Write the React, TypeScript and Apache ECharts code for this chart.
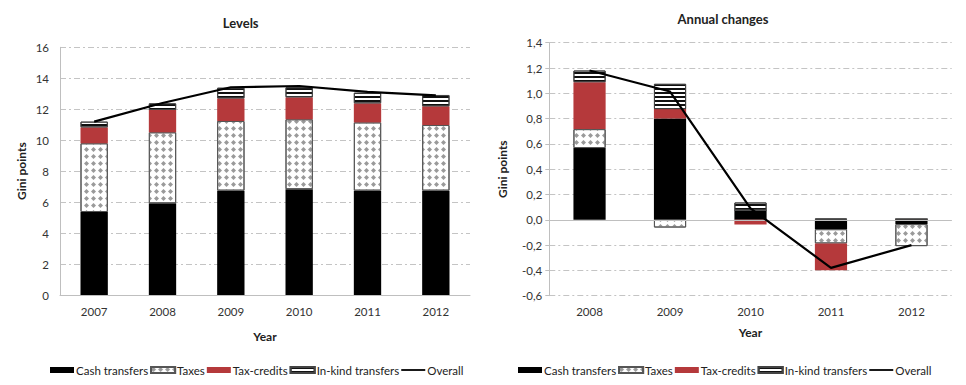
import React, { useEffect, useRef } from "react";
import * as echarts from "echarts";

const levelYears = ["2007", "2008", "2009", "2010", "2011", "2012"];
const levelCash = [5.36, 5.92, 6.74, 6.83, 6.74, 6.74];
const levelTaxes = [4.44, 4.59, 4.5, 4.52, 4.41, 4.24];
const levelCredits = [1.03, 1.44, 1.46, 1.42, 1.23, 1.21];
const levelInKind = [0.37, 0.43, 0.69, 0.65, 0.69, 0.73];
const levelOverall = [11.2, 12.4, 13.42, 13.5, 13.12, 12.9];

const changeYears = ["2008", "2009", "2010", "2011", "2012"];
const changeCash = [0.567, 0.801, 0.075, -0.074, -0.034];
const changeTaxes = [0.15, -0.061, 0, -0.113, -0.174];
const changeCredits = [0.371, 0.074, -0.037, -0.211, 0.005];
const changeInKind = [0.092, 0.2, 0.062, 0.011, 0];
const changeOverall = [1.18, 1.014, 0.09, -0.38, -0.2];

const seriesNames = ["Cash transfers", "Taxes", "Tax-credits", "In-kind transfers", "Overall"];

const FONT = "Lato, 'Open Sans', sans-serif";
const GRID_COLOR = "#c4c4c4";
const AXIS_COLOR = "#bfbfbf";
const TEXT_COLOR = "#333";

const styles: any[] = [
  { color: "#000000" },
  {
    color: "#ffffff",
    borderColor: "#555",
    borderWidth: 1,
    decal: {
      symbol: "diamond",
      symbolSize: 1,
      dashArrayX: [4.8, 2],
      dashArrayY: [4.8, 2],
      color: "#9a9a9a",
    },
  },
  { color: "#b5393b" },
  {
    color: "#ffffff",
    borderColor: "#444",
    borderWidth: 1,
    decal: {
      symbol: "rect",
      symbolSize: 1,
      symbolKeepAspect: false,
      dashArrayX: [1, 0],
      dashArrayY: [1.5, 1.5],
      color: "#111",
    },
  },
];

function barSeries(values: number[][], gridIdx: number, stack: string) {
  return values.map((vals, i) => ({
    type: "bar",
    name: seriesNames[i],
    xAxisIndex: gridIdx,
    yAxisIndex: gridIdx,
    stack,
    barWidth: "40%",
    itemStyle: styles[i],
    emphasis: { disabled: true },
    data: vals,
  }));
}

function legendFor(left: number) {
  return {
    left,
    top: 359,
    itemWidth: 24,
    itemHeight: 6,
    itemGap: 2,
    selectedMode: false,
    textStyle: { fontFamily: FONT, fontSize: 11.5, color: "#222", padding: [0, 0, 0, -3] },
    data: [
      { name: seriesNames[0], icon: "rect" },
      { name: seriesNames[1], icon: "rect" },
      { name: seriesNames[2], icon: "rect" },
      { name: seriesNames[3], icon: "rect" },
      { name: seriesNames[4], icon: "path://M0 0H120V9H0Z", itemStyle: { color: "#000", borderWidth: 0 } },
    ],
  };
}

const splitLine = { show: true, lineStyle: { color: GRID_COLOR, type: [6, 3, 2, 3], width: 1 } };
const labelStyle = { fontFamily: FONT, fontSize: 11.5, color: TEXT_COLOR };
const nameStyle = { fontFamily: FONT, fontSize: 12, fontWeight: "bold", color: "#222" };

export default function App() {
  const ref = useRef<HTMLDivElement>(null);
  useEffect(() => {
    document.body.style.margin = "0";
    if (!ref.current) return;
    const chart = echarts.init(ref.current, undefined, { renderer: "svg" });
    const option: any = {
      animation: false,
      backgroundColor: "#ffffff",
      graphic: [
        {
          type: "text",
          x: 240.7,
          y: 23.3,
          style: {
            text: "Levels",
            align: "center",
            verticalAlign: "middle",
            textAlign: "center",
            textVerticalAlign: "middle",
            font: `bold 13px ${FONT}`,
            fill: "#222",
          },
        },
        {
          type: "text",
          x: 723,
          y: 19.3,
          style: {
            text: "Annual changes",
            align: "center",
            verticalAlign: "middle",
            textAlign: "center",
            textVerticalAlign: "middle",
            font: `bold 13px ${FONT}`,
            fill: "#222",
          },
        },
      ],
      legend: [legendFor(45), legendFor(513)],
      grid: [
        { left: 60, top: 47.3, width: 410, height: 247.7 },
        { left: 549.3, top: 42.7, width: 402.4, height: 253 },
      ],
      xAxis: [
        {
          type: "category",
          gridIndex: 0,
          data: levelYears,
          name: "Year",
          nameLocation: "middle",
          nameGap: 35,
          nameTextStyle: nameStyle,
          axisLine: { show: true, lineStyle: { color: AXIS_COLOR } },
          axisTick: { show: false },
          axisLabel: { ...labelStyle, margin: 10 },
        },
        {
          type: "category",
          gridIndex: 1,
          data: changeYears,
          name: "Year",
          nameLocation: "middle",
          nameGap: 31,
          nameTextStyle: nameStyle,
          axisLine: { show: false, onZero: false },
          axisTick: { show: false },
          axisLabel: { ...labelStyle, margin: 10 },
        },
      ],
      yAxis: [
        {
          type: "value",
          gridIndex: 0,
          min: 0,
          max: 16,
          interval: 2,
          name: "Gini points",
          nameLocation: "middle",
          nameGap: 33,
          nameTextStyle: nameStyle,
          axisLine: { show: true, lineStyle: { color: AXIS_COLOR } },
          axisTick: { show: false },
          axisLabel: { ...labelStyle, margin: 11 },
          splitLine,
        },
        {
          type: "value",
          gridIndex: 1,
          min: -0.6,
          max: 1.4,
          interval: 0.2,
          name: "Gini points",
          nameLocation: "middle",
          nameGap: 41,
          nameTextStyle: nameStyle,
          axisLine: { show: true, lineStyle: { color: AXIS_COLOR } },
          axisTick: { show: true, length: 4, lineStyle: { color: AXIS_COLOR } },
          axisLabel: {
            ...labelStyle,
            margin: 7,
            formatter: (v: number) => (Math.abs(v) < 1e-9 ? "0,0" : v.toFixed(1).replace(".", ",")),
          },
          splitLine,
        },
      ],
      series: [
        ...barSeries([levelCash, levelTaxes, levelCredits, levelInKind], 0, "levels"),
        {
          type: "line",
          name: "Overall",
          xAxisIndex: 0,
          yAxisIndex: 0,
          symbol: "none",
          z: 5,
          lineStyle: { color: "#000", width: 2.2 },
          itemStyle: { color: "#000" },
          data: levelOverall,
        },
        ...barSeries([changeCash, changeTaxes, changeCredits, changeInKind], 1, "changes").map((s, i) =>
          i === 0
            ? {
                ...s,
                markLine: {
                  silent: true,
                  symbol: "none",
                  label: { show: false },
                  lineStyle: { color: AXIS_COLOR, type: "solid", width: 1.2 },
                  data: [{ yAxis: 0 }],
                },
              }
            : s
        ),
        {
          type: "line",
          name: "Overall",
          xAxisIndex: 1,
          yAxisIndex: 1,
          symbol: "none",
          z: 5,
          lineStyle: { color: "#000", width: 2.2 },
          itemStyle: { color: "#000" },
          data: changeOverall,
        },
      ],
    };
    chart.setOption(option);
    return () => chart.dispose();
  }, []);
  return <div ref={ref} style={{ width: 966, height: 385 }} />;
}
